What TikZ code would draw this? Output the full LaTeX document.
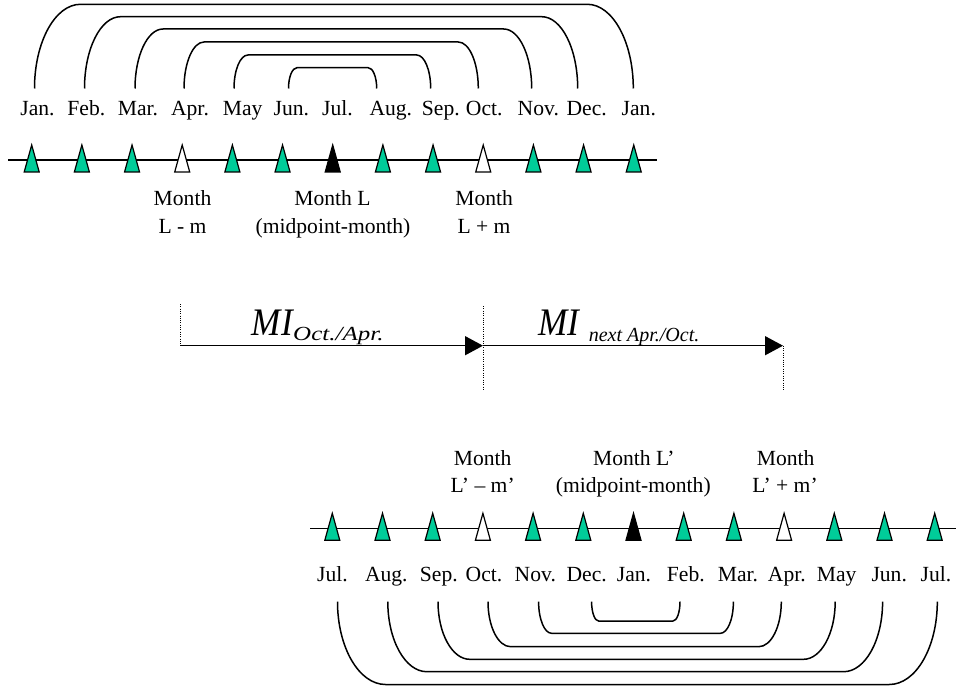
\documentclass[tikz,border=0pt]{standalone}
\usepackage{fontspec}
\setmainfont{Liberation Serif}
\usetikzlibrary{arrows.meta,calc}
\definecolor{tealgreen}{RGB}{0,204,153}
\begin{document}
\begin{tikzpicture}[x=1pt,y=-1pt,
  lbl/.style={font=\fontsize{21.6}{27}\selectfont, inner sep=0pt, anchor=base},
  tick/.style={draw=black, line width=1.2pt, line join=miter},
  axis/.style={line width=1.5pt},
  bracket/.style={line width=1.5pt},
  guide/.style={line width=1pt, dash pattern=on 1pt off 1.3pt},
  span/.style={line width=1.5pt, -{Triangle[length=18pt,width=19pt]}},
  big/.style={font=\fontsize{39}{39}\selectfont\itshape, inner sep=0pt, anchor=base west},
  small/.style={font=\fontsize{20}{20}\selectfont\itshape, inner sep=0pt, anchor=base west}]
\useasboundingbox (0,0) rectangle (956,687);

% ---------- upper time line: Jan. ... Jan. ----------
\coordinate (ua) at (8.3,160);
\coordinate (ub) at (657,160);
\draw[axis] (ua) -- (ub);
\foreach \i/\c in {0/tealgreen,1/tealgreen,2/tealgreen,3/white,4/tealgreen,5/tealgreen,6/black,
                   7/tealgreen,8/tealgreen,9/white,10/tealgreen,11/tealgreen,12/tealgreen}{
  \coordinate (ut\i) at ({31.7+50.17*\i},160);
  \filldraw[tick, fill=\c] ($(ut\i)+(-7.5,12)$) -- ($(ut\i)+(0,-15)$) -- ($(ut\i)+(7.5,12)$) -- cycle;
}
\foreach \n/\x/\t in {1/37.5/Jan., 2/86.3/Feb., 3/138/Mar., 4/190/Apr., 5/242.7/May, 6/291.3/Jun.,
                      7/337.5/Jul., 8/390.8/Aug., 9/440.8/Sep., 10/484.2/Oct., 11/538.3/Nov.,
                      12/586.7/Dec., 13/638.8/Jan.}{
  \node[lbl] (um\n) at (\x,116) {\t};
}
% nested brackets joining months that lie symmetric about July
\foreach \k/\xl/\xr/\yt/\r in {1/34.5/633.3/4.3/46, 2/84.5/577.7/16.7/36, 3/135/531.7/29/28,
                               4/184/478.3/42/20, 5/234/430.7/55/14, 6/288.5/376.7/67.7/8.5}{
  \coordinate (ul\k) at (\xl,88.5);
  \coordinate (ur\k) at (\xr,88.5);
  \pgfmathsetmacro{\ry}{88.5-\yt}
  \draw[bracket] (ul\k) arc[start angle=180,end angle=270,x radius=\r,y radius=\ry]
    -- ($(ur\k)+(-\r,-\ry)$) arc[start angle=270,end angle=360,x radius=\r,y radius=\ry];
}
\node[lbl] (uA1) at (182.5,206) {Month};
\node[lbl] (uA2) at (182.5,233.3) {L - m};
\node[lbl] (uB1) at (332.5,206) {Month L};
\node[lbl] (uB2) at (333,233.3) {(midpoint-month)};
\node[lbl] (uC1) at (484.2,206) {Month};
\node[lbl] (uC2) at (484,233.3) {L + m};

% ---------- intervals between the midpoint months ----------
\coordinate (mL) at (180,345.7);
\coordinate (mM) at (483,345.7);
\coordinate (mR) at (783,345.7);
\coordinate (gL) at (180,304);
\coordinate (gMa) at (483,306);
\coordinate (gMb) at (483,389);
\coordinate (gRb) at (783,390);
\draw[guide] (gL) -- (mL);
\draw[guide] (gMa) -- (gMb);
\draw[guide] (mR) -- (gRb);
\draw[span] (mL) -- (mM);
\draw[span] (mM) -- (mR);
\node[big] (mi1) at (251.7,335) {\scalebox{0.9}[1]{MI}};
\node[small] (mi1s) at (293,340.7) {\scalebox{1.25}[1]{Oct./Apr.}};
\node[big] (mi2) at (538,335) {\scalebox{0.9}[1]{MI}};
\node[small] (mi2s) at (588.6,341) {next Apr./Oct.};

% ---------- lower time line: Jul. ... Jul. ----------
\coordinate (la) at (310,528.3);
\coordinate (lb) at (956,528.3);
\draw[axis] (la) -- (lb);
\foreach \i/\c in {0/tealgreen,1/tealgreen,2/tealgreen,3/white,4/tealgreen,5/tealgreen,6/black,
                   7/tealgreen,8/tealgreen,9/white,10/tealgreen,11/tealgreen,12/tealgreen}{
  \coordinate (lt\i) at ({332.3+50.2*\i},528.3);
  \filldraw[tick, fill=\c] ($(lt\i)+(-7.5,12)$) -- ($(lt\i)+(0,-15)$) -- ($(lt\i)+(7.5,12)$) -- cycle;
}
\foreach \n/\x/\t in {1/332.5/Jul., 2/386.3/Aug., 3/438.8/Sep., 4/484/Oct., 5/535.3/Nov., 6/586.7/Dec.,
                      7/634/Jan., 8/685.8/Feb., 9/738/Mar., 10/786.8/Apr., 11/836.7/May,
                      12/889.2/Jun., 13/936/Jul.}{
  \node[lbl] (lm\n) at (\x,581.7) {\t};
}
% nested brackets joining months that lie symmetric about January
\foreach \k/\xl/\xr/\yb/\r in {1/337.5/937.3/684.5/48, 2/387.8/882.6/671.7/39, 3/438/835.2/659.3/31.7,
                               4/488/781.3/646.7/22.6, 5/538.6/733.4/633.3/13, 6/591.6/680/621/7}{
  \coordinate (ll\k) at (\xl,601.7);
  \coordinate (lr\k) at (\xr,601.7);
  \pgfmathsetmacro{\ry}{\yb-601.7}
  \draw[bracket] (ll\k) arc[start angle=180,end angle=90,x radius=\r,y radius=\ry]
    -- ($(lr\k)+(-\r,\ry)$) arc[start angle=90,end angle=0,x radius=\r,y radius=\ry];
}
\node[lbl] (lA1) at (482.7,465) {Month};
\node[lbl] (lA2) at (482.7,492.7) {L’ – m’};
\node[lbl] (lB1) at (633.8,465) {Month L’};
\node[lbl] (lB2) at (633.3,492.7) {(midpoint-month)};
\node[lbl] (lC1) at (785.7,465) {Month};
\node[lbl] (lC2) at (785,492.7) {L’ + m’};
\end{tikzpicture}
\end{document}
